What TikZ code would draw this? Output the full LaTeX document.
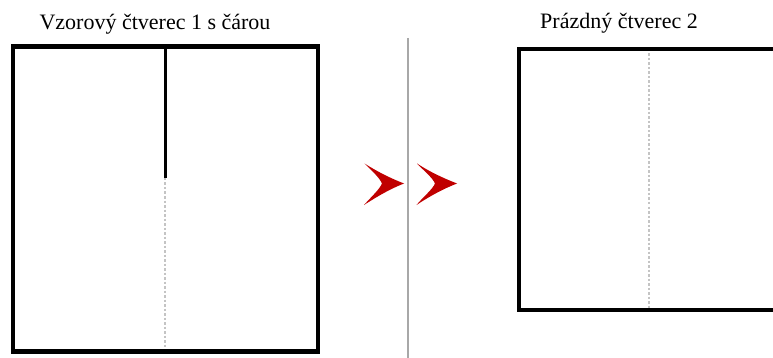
\documentclass[tikz,border=0pt]{standalone}
\usepackage{fontspec}
\setmainfont{Liberation Serif}
\definecolor{chev}{HTML}{C00000}
\definecolor{dashgray}{HTML}{C4C4C4}
\definecolor{sepgray}{HTML}{A8A8A8}
\tikzset{
  sq/.style={draw=black, line width=4.5pt},
  midguide/.style={draw=dashgray, line width=1.6pt, dash pattern=on 2.5pt off 2pt},
  sampleline/.style={draw=black, line width=3pt},
  sepline/.style={draw=sepgray, line width=1.5pt},
  chevron/.style={fill=chev, draw=none},
  caption/.style={font=\fontsize{22pt}{25pt}\selectfont, inner sep=0pt, anchor=base}
}
\begin{document}
\begin{tikzpicture}[x=1pt,y=-1pt]
\useasboundingbox (0,0) rectangle (773,358);
\clip (0,0) rectangle (773,358);
% captions
\node[caption] (t1) at (155,29.3) {Vzorový čtverec 1 s čárou};
\node[caption] (t2) at (619,28.3) {Prázdný čtverec 2};
% left square
\coordinate (l1) at (165,46.5);
\coordinate (l2) at (165,178);
\coordinate (l3) at (165,349);
\draw[midguide] (l2) -- (l3);
\draw[sampleline] (l1) -- (l2);
\draw[sq] (13,46.5) rectangle (318,351.5);
% separator
\coordinate (s1) at (408,38);
\coordinate (s2) at (408,358);
\draw[sepline] (s1) -- (s2);
% chevrons
\fill[chevron] (364.5,163.5) .. controls (378,172) and (390,178) .. (404,183.5)
  .. controls (390,189) and (378,196) .. (364,205)
  .. controls (372,196) and (379,190) .. (382,183.5)
  .. controls (379,177) and (372,171) .. cycle;
\fill[chevron] (417,163.5) .. controls (430,172) and (443,178) .. (457,183.5)
  .. controls (443,189) and (430,196) .. (416.5,205)
  .. controls (424,196) and (432,190) .. (435,183.5)
  .. controls (432,177) and (424,171) .. cycle;
% right square
\coordinate (r1) at (649,49);
\coordinate (r2) at (649,308);
\draw[midguide] (r1) -- (r2);
\draw[line width=4pt] (519,49) rectangle (779,310);
\end{tikzpicture}
\end{document}
